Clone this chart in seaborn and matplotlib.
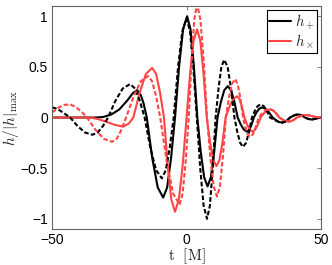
import numpy as np
import pandas as pd
import matplotlib
matplotlib.use('Agg')
import matplotlib.pyplot as plt
import seaborn as sns

# h_plus, solid (black)
t_plus = [-50, -40, -34, -31, -28, -25, -22, -20, -18.4, -17, -16, -14.8,
          -12.77, -10.73, -8.7, -7.23, -5.77, -4.3, -2.8, -1.3, 0.2, 1.47, 2.73, 4.0,
          5.27, 6.53, 7.8, 9.03, 10.27, 11.5, 12.77, 14.03, 15.3, 16.53, 17.77, 19,
          20.17, 21.33, 22.5, 23.33, 24.17, 25, 26, 27, 28, 29.33, 30.67, 32,
          33.17, 34.33, 35.5, 36.5, 37.5, 38.5, 39.5, 40.5, 41.5, 42.3, 43.2, 44,
          45.3, 46.6, 48.3, 50]
h_plus = [0, 0, 0, 0.005, 0.03, 0.08, 0.17, 0.24, 0.27, 0.22, 0.14, 0.0,
          -0.40, -0.69, -0.79, -0.69, -0.40, 0, 0.5, 0.87, 1.0, 0.87, 0.5, 0,
          -0.34, -0.59, -0.68, -0.59, -0.34, 0, 0.155, 0.27, 0.31, 0.27, 0.155, 0,
          -0.07, -0.12, -0.14, -0.12, -0.07, 0, 0.05, 0.087, 0.1, 0.087, 0.05, 0,
          -0.025, -0.043, -0.05, -0.043, -0.025, 0, 0.015, 0.026, 0.03, 0.026, 0.015, 0,
          -0.014, -0.02, -0.01, 0]

# h_plus, dashed (black)
t_plus2 = [-50, -48, -46, -43.3, -40.53, -37.77, -35, -33.07, -31.13, -29.2,
           -26.47, -23.73, -21, -19.2, -17.4, -15.6, -13.47, -11.33, -9.2, -7.73, -6.27, -4.8,
           -3.2, -1.6, 0, 1.27, 2.53, 3.8, 5.07, 6.33, 7.6, 8.67, 9.73, 10.8,
           11.87, 12.93, 14.0, 15.27, 16.53, 17.8, 18.87, 19.93, 21, 22.1, 23.2, 24.3,
           25.37, 26.43, 27.5, 28.67, 29.83, 31, 33.17, 34.33, 35.5, 36.5, 37.5, 38.5,
           39.5, 40.5, 41.5, 42.3, 43.2, 44, 45.3, 46.6, 48.3, 50]
h_plus2 = [0.1, 0.085, 0.05, 0, -0.085, -0.148, -0.17, -0.148, -0.085, 0,
           0.165, 0.287, 0.33, 0.287, 0.165, 0, -0.3, -0.52, -0.6, -0.52, -0.3, 0,
           0.49, 0.85, 0.98, 0.85, 0.49, 0, -0.5, -0.87, -1.0, -0.87, -0.5, 0,
           0.285, 0.5, 0.57, 0.5, 0.285, 0, -0.145, -0.25, -0.29, -0.25, -0.145, 0,
           0.065, 0.113, 0.13, 0.113, 0.065, 0, -0.03, -0.045, -0.05, -0.043, -0.025, 0,
           0.015, 0.026, 0.03, 0.026, 0.015, 0, -0.014, -0.02, -0.01, 0]

# h_cross, solid (red)
t_cross = [-50, -40, -36, -33, -30, -27, -23.6, -21.5, -19.8, -17.47, -15.13, -12.8,
           -11.33, -9.87, -8.4, -7.03, -5.67, -4.3, -2.87, -1.43, 0, 1.3, 2.6, 3.9,
           5.1, 6.3, 7.5, 8.7, 9.9, 11.1, 12.23, 13.37, 14.5, 15.93, 17.37, 18.8,
           19.7, 20.6, 21.5, 22.5, 23.5, 24.5, 25.5, 26.5, 27.5, 28.67, 29.83, 31,
           32.17, 33.33, 34.5, 35.67, 36.83, 38, 39, 40, 41, 42.3, 43.5, 44.8,
           46.5, 48, 50]
h_cross = [0, 0, 0, -0.015, -0.04, -0.07, -0.09, -0.06, 0, 0.245, 0.43, 0.49,
           0.43, 0.245, 0, -0.465, -0.81, -0.93, -0.81, -0.465, 0, 0.435, 0.76, 0.87,
           0.76, 0.435, 0, -0.24, -0.42, -0.48, -0.42, -0.24, 0, 0.105, 0.183, 0.21,
           0.183, 0.105, 0, -0.07, -0.12, -0.14, -0.12, -0.07, 0, 0.04, 0.07, 0.08,
           0.07, 0.04, 0, -0.02, -0.035, -0.04, -0.035, -0.02, 0, 0.013, 0.022, 0.025,
           0.015, 0.005, 0]

# h_cross, dashed (red)
t_cross2 = [-50, -47.5, -45.5, -43.3, -41, -39, -37, -33.9, -30.8, -27.7,
            -25.97, -24.23, -22.5, -19.77, -17.03, -14.3, -12.8, -11.3, -9.8,
            -7.4, -5.0, -2.6, -1.47, -0.33, 0.8, 1.83, 2.87, 3.9, 5.13, 6.37, 7.6,
            8.83, 10.07, 11.3, 12.4, 13.5, 14.6, 15.73, 16.87, 18, 19, 20, 21,
            21.87, 22.73, 23.6, 24.67, 25.73, 26.8, 28.2, 29.6, 31, 32.17, 33.33, 34.5,
            35.67, 36.83, 38, 39, 40, 41, 42.3, 43.5, 44.8, 46.5, 48, 50]
h_cross2 = [0.05, 0.1, 0.125, 0.13, 0.1, 0.055, 0, -0.12, -0.21, -0.24,
            -0.21, -0.12, 0, 0.205, 0.357, 0.41, 0.357, 0.205, 0,
            -0.43, -0.75, -0.86, -0.75, -0.43, 0, 0.56, 0.97, 1.12, 0.97, 0.56, 0,
            -0.39, -0.68, -0.78, -0.68, -0.39, 0, 0.19, 0.33, 0.38, 0.33, 0.19, 0,
            -0.095, -0.165, -0.19, -0.165, -0.095, 0, 0.045, 0.075, 0.085, 0.07, 0.04, 0,
            -0.02, -0.035, -0.04, -0.035, -0.02, 0, 0.013, 0.022, 0.025, 0.015, 0.005, 0]

sns.set_style('white')
plt.rcParams['font.family'] = ['Liberation Sans', 'DejaVu Sans']
plt.rcParams['mathtext.fontset'] = 'cm'

red = '#ff4545'
dash = (0, (2.2, 1.1))

fig = plt.figure(figsize=(3.32, 2.65), dpi=100)
ax = fig.add_axes([0.157, 0.136, 0.81, 0.841])

sns.lineplot(x=t_plus, y=h_plus, color='black', lw=1.5, label=r'$h_+$', ax=ax, estimator=None, sort=False)
sns.lineplot(x=t_cross, y=h_cross, color=red, lw=1.5, label=r'$h_\times$', ax=ax, estimator=None, sort=False)
sns.lineplot(x=t_plus2, y=h_plus2, color='black', lw=1.5, linestyle=dash, ax=ax, estimator=None, sort=False)
sns.lineplot(x=t_cross2, y=h_cross2, color=red, lw=1.5, linestyle=dash, ax=ax, estimator=None, sort=False)

ax.set_xlim(-50, 50)
ax.set_ylim(-1.1, 1.1)
ax.set_xticks([-50, 0, 50])
ax.set_yticks([-1, -0.5, 0, 0.5, 1])
ax.set_yticklabels(['\u22121', '\u22120.5', '0', '0.5', '1'])
ax.set_xticklabels(['\u221250', '0', '50'])
ax.tick_params(direction='in', length=3, width=0.6, labelsize=10, top=True, right=True,
               colors='0.4', labelcolor='black', pad=3)
for s in ax.spines.values():
    s.set_color('0.4')
    s.set_linewidth(0.8)

ax.set_xlabel(r'$\mathrm{t}\ \ [\mathrm{M}]$', fontsize=11, labelpad=-0.5)
ax.set_ylabel(r'$h/|h|_{\max}$', fontsize=11, labelpad=0)

leg = ax.legend(loc='upper right', fontsize=10.5, handlelength=1.5, handletextpad=0.25,
                borderpad=0.15, labelspacing=0.0, fancybox=False, framealpha=1,
                borderaxespad=0.3)
leg.get_frame().set_edgecolor('black')
leg.get_frame().set_linewidth(0.8)

fig.savefig('out.png', dpi=100)
